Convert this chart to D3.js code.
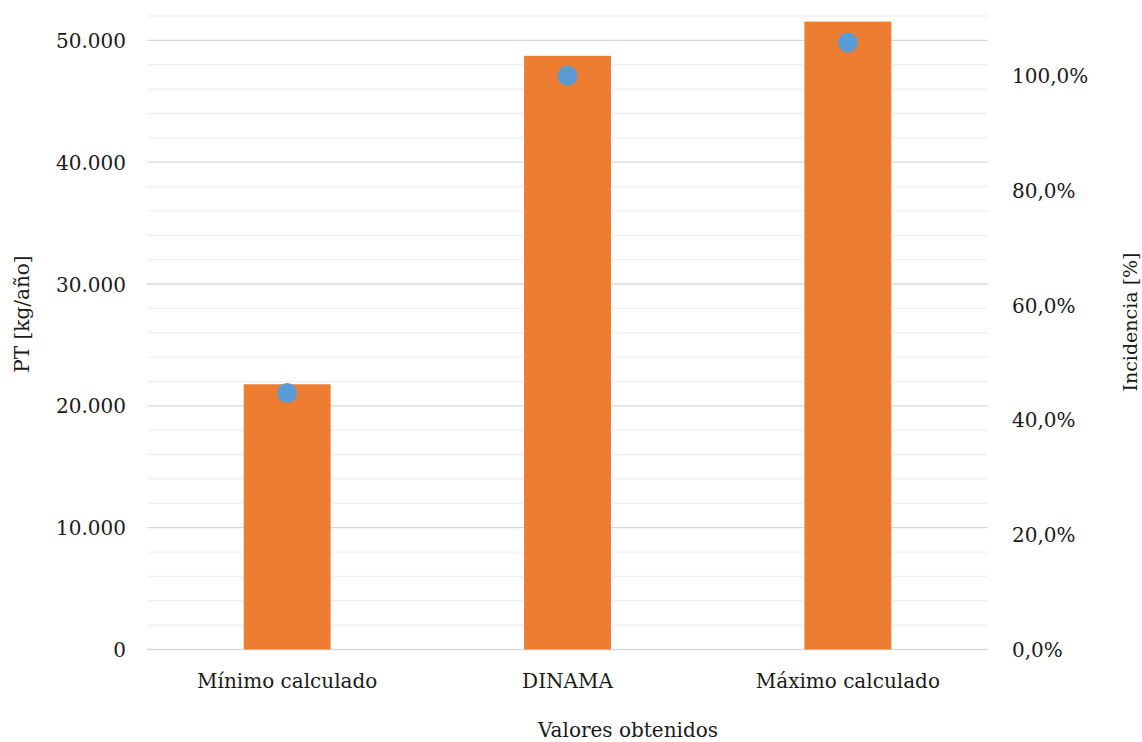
<!DOCTYPE html>
<html>
<head>
<meta charset="utf-8">
<script src="https://cdn.jsdelivr.net/npm/d3@7"></script>
<style>
  html, body { margin: 0; padding: 0; background: #fff; }
  text { font-family: "DejaVu Serif", serif; fill: #1a1a1a; }
</style>
</head>
<body>
<svg id="chart" width="1142" height="742"></svg>
<script>
// Categories and measured values
const categories = ["Mínimo calculado", "DINAMA", "Máximo calculado"];
const ptValues = [21770, 48730, 51540];          // PT [kg/año]
const incidenceValues = [0.447, 1.0, 1.058];     // Incidencia relative to DINAMA
const leftTicks = [0, 10000, 20000, 30000, 40000, 50000];
const rightTicks = [0, 0.2, 0.4, 0.6, 0.8, 1.0];

const W = 1142, H = 742;
const margin = { top: 16, right: 154, bottom: 92.5, left: 147 };
const innerW = W - margin.left - margin.right;
const innerH = H - margin.top - margin.bottom;

const svg = d3.select("#chart");
const g = svg.append("g").attr("transform", `translate(${margin.left},${margin.top})`);

const x = d3.scaleBand().domain(categories).range([0, innerW]).paddingInner(0.69).paddingOuter(0.345);
const yL = d3.scaleLinear().domain([0, 52000]).range([innerH, 0]);
const yR = d3.scaleLinear().domain([0, 1.104]).range([innerH, 0]);

// Minor gridlines every 2.000
const minor = d3.range(2000, 52001, 2000).filter(v => v % 10000 !== 0);
g.append("g").selectAll("line").data(minor).join("line")
  .attr("x1", 0).attr("x2", innerW)
  .attr("y1", d => yL(d)).attr("y2", d => yL(d))
  .attr("stroke", "#f0f0f0").attr("stroke-width", 1.3);

// Major gridlines
g.append("g").selectAll("line").data(leftTicks).join("line")
  .attr("x1", 0).attr("x2", innerW)
  .attr("y1", d => yL(d)).attr("y2", d => yL(d))
  .attr("stroke", "#d9d9d9").attr("stroke-width", 1.3);

// Bars
g.append("g").selectAll("rect").data(categories).join("rect")
  .attr("x", d => x(d))
  .attr("width", x.bandwidth())
  .attr("y", (d, i) => yL(ptValues[i]))
  .attr("height", (d, i) => innerH - yL(ptValues[i]))
  .attr("fill", "#ED7D31");

// Incidence markers
g.append("g").selectAll("circle").data(categories).join("circle")
  .attr("cx", d => x(d) + x.bandwidth() / 2)
  .attr("cy", (d, i) => yR(incidenceValues[i]))
  .attr("r", 10)
  .attr("fill", "#5B9BD5");

const fmtL = v => d3.format(",")(v).replace(/,/g, ".");
const fmtR = v => d3.format(".1f")(v * 100).replace(".", ",") + "%";

// Left axis
const axL = g.append("g").call(d3.axisLeft(yL).tickValues(leftTicks).tickFormat(fmtL).tickSize(0).tickPadding(21));
axL.select(".domain").remove();
axL.selectAll("text").style("font-size", "20px").attr("dy", "0.35em");

// Right axis
const axR = g.append("g").attr("transform", `translate(${innerW},0)`)
  .call(d3.axisRight(yR).tickValues(rightTicks).tickFormat(fmtR).tickSize(0).tickPadding(24));
axR.select(".domain").remove();
axR.selectAll("text").style("font-size", "20px").attr("dy", "0.35em");

// Category axis
const axB = g.append("g").attr("transform", `translate(0,${innerH})`)
  .call(d3.axisBottom(x).tickSize(0).tickPadding(31));
axB.select(".domain").remove();
axB.selectAll("text").style("font-size", "20px").attr("dy", "0.35em");

// Axis titles
svg.append("text").attr("x", 628).attr("y", 737)
  .attr("text-anchor", "middle").style("font-size", "20px").text("Valores obtenidos");
svg.append("text").attr("transform", "translate(29,314) rotate(-90)")
  .attr("text-anchor", "middle").style("font-size", "20px").text("PT [kg/año]");
svg.append("text").attr("transform", "translate(1137,322) rotate(-90)")
  .attr("text-anchor", "middle").style("font-size", "19px").text("Incidencia [%]");
</script>
</body>
</html>
